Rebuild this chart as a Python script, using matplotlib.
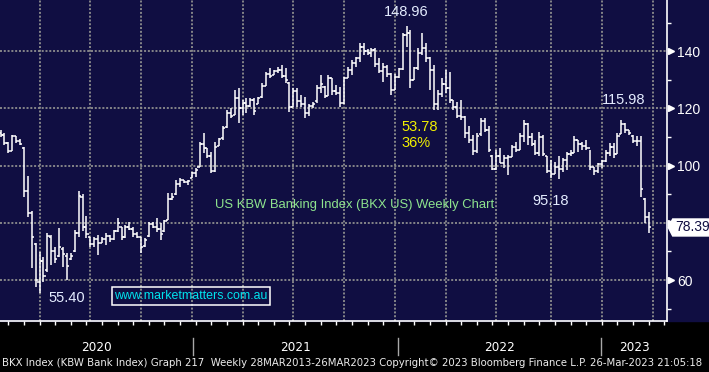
import numpy as np
import matplotlib.pyplot as plt
from matplotlib import transforms, font_manager
from matplotlib.patches import Rectangle, Polygon

# BKX weekly bars, week ending 17-Jan-2020 .. 24-Mar-2023 (x = week number)
bar_open = [
    111.5, 110.8, 107.8, 105.2, 110.2, 108.6, 106.3, 91.0, 83.5, 72.5,
    59.5, 66.5, 63.5, 75.0, 70.0, 68.5, 71.0, 68.5, 67.5, 70.0,
    76.5, 89.0, 78.5, 75.0, 72.5, 74.5, 73.0, 74.5, 75.5, 74.5,
    77.0, 78.5, 75.0, 78.5, 78.0, 76.0, 75.0, 71.8, 75.5, 79.5,
    78.5, 78.0, 77.0, 81.0, 88.5, 90.0, 93.5, 95.0, 94.3, 95.8,
    97.5, 99.7, 107.5, 106.0, 103.5, 98.0, 106.7, 109.5, 113.5, 118.5,
    117.7, 123.5, 120.0, 122.0, 121.0, 123.0, 121.5, 124.0, 128.0, 132.0,
    131.7, 133.0, 133.5, 131.5, 129.0, 120.5, 126.0, 122.5, 121.5, 118.5,
    121.0, 122.5, 127.0, 127.5, 124.5, 130.5, 126.0, 125.5, 122.0, 130.5,
    133.5, 136.0, 137.5, 141.5, 140.0, 139.5, 140.5, 135.5, 133.0, 134.5,
    132.0, 126.5, 131.0, 133.8, 145.5, 146.5, 130.0, 134.0, 139.5, 141.0,
    137.5, 133.5, 121.5, 125.0, 128.5, 127.0, 123.0, 120.5, 117.5, 117.0,
    111.5, 109.0, 105.0, 111.0, 115.5, 112.5, 103.5, 99.0, 103.5, 101.0,
    102.5, 103.0, 106.5, 105.5, 110.5, 114.5, 110.0, 107.5, 104.5, 110.0,
    103.5, 98.0, 97.0, 99.5, 99.0, 102.0, 104.0, 104.5, 109.0, 107.5,
    107.0, 106.0, 99.5, 98.0, 100.5, 101.5, 104.5, 106.5, 104.0, 111.0,
    114.5, 112.5, 110.5, 108.5, 108.5, 88.3, 82.0,
]
bar_high = [
    112.5, 111.3, 108.4, 110.8, 110.4, 109.2, 106.5, 96.4, 84.0, 72.9,
    69.9, 68.2, 76.4, 75.8, 71.7, 78.1, 71.7, 69.4, 69.4, 77.5,
    91.3, 90.0, 82.4, 75.2, 75.2, 75.8, 75.2, 76.4, 75.8, 77.5,
    81.6, 78.7, 79.3, 80.4, 78.7, 76.9, 75.2, 74.6, 80.4, 80.4,
    81.6, 79.9, 81.0, 90.4, 90.4, 95.0, 95.6, 95.0, 95.0, 97.9,
    99.1, 108.4, 111.3, 106.1, 104.9, 108.4, 109.6, 113.7, 119.5, 120.1,
    126.5, 127.1, 123.0, 123.6, 123.6, 123.6, 124.1, 128.8, 132.9, 134.1,
    133.5, 134.6, 135.2, 134.1, 129.4, 127.1, 127.1, 124.7, 124.1, 121.5,
    122.4, 128.2, 131.7, 127.8, 131.7, 130.6, 128.2, 127.6, 131.1, 134.6,
    137.0, 138.1, 143.0, 142.8, 140.7, 141.0, 141.0, 137.5, 135.8, 135.2,
    132.3, 132.0, 134.1, 146.3, 148.96, 147.5, 134.6, 141.0, 146.3, 142.8,
    138.1, 135.2, 126.5, 130.5, 133.5, 132.9, 123.0, 122.4, 123.0, 117.2,
    114.0, 110.7, 111.3, 116.6, 116.6, 114.0, 103.7, 105.5, 106.1, 103.7,
    103.7, 107.2, 108.4, 111.3, 116.0, 114.8, 111.3, 109.0, 111.9, 110.7,
    103.5, 102.0, 101.4, 103.2, 102.6, 104.9, 105.5, 110.2, 109.0, 108.4,
    109.0, 105.5, 99.7, 100.8, 102.0, 105.5, 107.8, 107.8, 111.3, 115.98,
    114.8, 112.5, 110.7, 110.2, 110.2, 88.6, 83.9,
]
bar_low = [
    110.0, 107.3, 104.3, 105.0, 107.8, 107.3, 89.2, 82.2, 64.1, 57.7,
    55.4, 59.5, 63.0, 65.3, 65.9, 68.2, 64.7, 60.0, 67.0, 69.8,
    75.2, 77.0, 74.6, 71.7, 71.7, 68.8, 72.9, 72.3, 73.4, 74.0,
    76.9, 74.0, 74.6, 77.5, 75.2, 74.6, 69.4, 71.7, 75.2, 78.1,
    76.9, 74.0, 76.9, 81.0, 88.0, 89.8, 92.7, 93.9, 93.2, 95.6,
    96.2, 99.7, 104.3, 102.6, 97.3, 97.9, 106.7, 109.0, 113.1, 116.6,
    117.7, 114.8, 117.7, 118.3, 120.6, 117.7, 121.5, 123.8, 128.0, 130.6,
    131.7, 132.3, 130.6, 128.8, 118.9, 120.5, 120.6, 120.6, 116.6, 117.5,
    120.0, 122.0, 125.3, 123.6, 124.5, 124.7, 124.7, 120.6, 121.5, 130.5,
    131.7, 134.6, 136.4, 138.7, 138.7, 138.1, 134.6, 132.3, 129.4, 131.1,
    124.7, 126.5, 130.6, 133.5, 141.6, 127.1, 130.0, 133.5, 138.7, 136.4,
    126.5, 119.5, 119.5, 124.1, 125.3, 122.0, 119.5, 116.6, 116.0, 109.6,
    108.0, 103.7, 104.3, 110.5, 111.9, 104.9, 98.5, 98.5, 100.8, 99.1,
    96.8, 103.0, 104.9, 105.5, 108.4, 107.2, 106.7, 103.7, 103.2, 103.2,
    97.3, 95.6, 97.0, 95.18, 97.9, 98.5, 103.2, 104.5, 104.9, 105.5,
    105.5, 98.5, 96.8, 97.3, 99.1, 101.4, 103.2, 102.6, 104.0, 111.0,
    111.3, 110.7, 107.8, 106.7, 89.2, 79.8, 76.4,
]
bar_close = [
    110.8, 107.8, 105.0, 110.2, 108.6, 107.6, 91.0, 83.5, 75.0, 60.0,
    66.5, 61.5, 75.5, 70.0, 67.5, 71.5, 69.0, 65.0, 68.5, 76.5,
    89.5, 78.5, 76.0, 72.5, 74.5, 73.0, 74.5, 75.5, 74.5, 77.0,
    80.0, 75.0, 78.5, 78.0, 76.0, 75.0, 71.5, 74.0, 79.5, 78.5,
    78.0, 76.0, 80.5, 88.5, 89.0, 93.5, 95.0, 94.3, 94.5, 97.5,
    98.5, 107.5, 106.0, 103.5, 98.0, 106.5, 109.3, 113.0, 118.5, 117.5,
    123.5, 120.0, 122.0, 121.0, 123.0, 119.0, 123.8, 128.0, 132.0, 131.5,
    133.0, 133.5, 131.5, 130.0, 120.5, 126.0, 122.5, 121.5, 118.5, 121.0,
    121.5, 127.0, 128.5, 124.5, 130.5, 126.0, 125.5, 122.0, 130.5, 133.5,
    136.0, 137.5, 141.5, 140.0, 139.5, 140.5, 135.5, 133.0, 134.5, 132.0,
    126.5, 131.0, 133.8, 145.5, 146.5, 130.0, 134.0, 139.5, 141.0, 137.5,
    133.5, 121.5, 125.0, 128.5, 127.0, 123.0, 120.5, 117.5, 117.0, 111.5,
    109.0, 105.0, 110.5, 115.5, 112.5, 105.5, 99.0, 103.5, 101.0, 102.5,
    103.0, 106.5, 105.5, 110.5, 114.5, 110.0, 107.5, 104.5, 110.0, 104.0,
    98.0, 97.0, 99.5, 99.0, 102.0, 104.0, 104.5, 109.0, 107.5, 107.0,
    106.0, 99.5, 98.0, 100.5, 101.5, 104.5, 106.5, 104.0, 110.5, 114.5,
    112.5, 111.5, 108.5, 108.5, 92.0, 82.0, 78.39,
]

price_ticks = [60, 80, 100, 120, 140]
minor_ticks = [50, 70, 90, 110, 130, 150]
quarter_lines = [10, 23, 36, 49, 62, 75, 88, 101, 114, 127, 141, 154, 167]
year_edges = [49.3, 101.9, 153.9]
year_labels = ['2020', '2021', '2022', '2023']
footer = ('BKX Index (KBW Bank Index) Graph 217  Weekly 28MAR2013-26MAR2023 '
          'Copyright\u00a9 2023 Bloomberg Finance L.P. 26-Mar-2023 21:05:18')

navy = '#100e42'
W, H = 709, 372

plt.rcParams['font.family'] = ['Liberation Sans', 'DejaVu Sans']


def narrow_font():
    # a condensed face for the Bloomberg footer, if one is installed
    fl = font_manager.fontManager.ttflist
    for f in fl:
        if f.name == 'Liberation Sans Narrow' and f.weight in (400, 'normal') and f.style == 'normal':
            return font_manager.FontProperties(fname=f.fname)
    for f in fl:
        if f.stretch in ('condensed', 'semi-condensed') and f.style == 'normal' \
                and f.weight in (400, 'normal') and 'Sans' in f.name and 'Mono' not in f.name:
            return font_manager.FontProperties(fname=f.fname)
    return font_manager.FontProperties(family='Liberation Sans')


fig = plt.figure(figsize=(W / 100, H / 100), dpi=100, facecolor='black')
fig.patches.append(Rectangle((0, 51 / H), 1, 1, transform=fig.transFigure,
                             color=navy, zorder=-10))
ax = fig.add_axes([0, 51 / H, 667 / W, 321 / H])
ax.set_facecolor(navy)
ax.set_xlim(-0.13, 170.7)
ax.set_ylim(45.7, 157.9)

x = np.arange(len(bar_close))
ax.vlines(x, bar_low, bar_high, color='white', lw=1.1, zorder=3)
ax.hlines(bar_open, x - 0.55, x, color='white', lw=1.1, zorder=3)
ax.hlines(bar_close, x, x + 0.55, color='white', lw=1.1, zorder=3)

dots = dict(color='#8e8e8e', lw=1.3, ls=(0, (1.1, 1.0)), zorder=1)
for p in price_ticks:
    ax.axhline(p, **dots)
for q in quarter_lines:
    ax.axvline(q, **dots)

for s in ['top', 'left']:
    ax.spines[s].set_visible(False)
for s in ['right', 'bottom']:
    ax.spines[s].set_color('white')
    ax.spines[s].set_linewidth(1.2)

ax.set_xticks(np.arange(2, 171, 4))
ax.tick_params(axis='x', length=3, width=1, color='white', labelbottom=False)
ax.yaxis.tick_right()
ax.set_yticks(price_ticks)
# the last-price tag sits on top of the nearest level label
last = bar_close[-1]
ax.set_yticklabels(['' if abs(p - last) < 5 else str(p) for p in price_ticks])
ax.set_yticks(minor_ticks, minor=True)
ax.tick_params(axis='y', which='major', length=0, pad=7.5,
               labelcolor='white', labelsize=10)
ax.tick_params(axis='y', which='minor', length=3, width=1, color='white')
tri = transforms.offset_copy(ax.get_yaxis_transform(), fig=fig, x=3.5, units='dots')
ax.plot([1.0] * len(price_ticks), price_ticks, ls='none', marker='>', ms=5,
        color='white', transform=tri, clip_on=False)

# labels on the chart
peak_i = int(np.argmax(bar_high))
low_i = int(np.argmin(bar_low))
low22_i = 120 + int(np.argmin(bar_low[120:160]))
hi23_i = 150 + int(np.argmax(bar_high[150:]))
fall = bar_high[peak_i] - bar_low[low22_i]
lab = dict(color='#e4ecff', fontsize=10.5, ha='center', va='center')
ax.text(peak_i - 0.2, 153.6, f'{bar_high[peak_i]:.2f}', **lab)
ax.text(low_i + 7, 53.9, f'{bar_low[low_i]:.2f}', **lab)
ax.text(low22_i - 2, 87.8, f'{bar_low[low22_i]:.2f}', **lab)
ax.text(hi23_i + 0.7, 122.8, f'{bar_high[hi23_i]:.2f}', **lab)
ax.text(102.8, 113.5, f'{fall:.2f}', color='#f2f000', fontsize=10.5, va='center')
ax.text(102.8, 107.9, f'{fall / bar_high[peak_i] * 100:.0f}%', color='#f2f000',
        fontsize=10.5, va='center')

r = fig.canvas.get_renderer()


def fit(t, width_px):
    w = t.get_window_extent(r).width
    t.set_fontsize(t.get_fontsize() * width_px / w)


title = ax.text(90.8, 86.4, 'US KBW Banking Index (BKX US) Weekly Chart',
                color='#8ee48e', fontsize=10, ha='center', va='center')
fit(title, 280)
www = ax.text(48.6, 54.4, 'www.marketmatters.com.au', color='#00e4ee',
              fontsize=10, ha='center', va='center')
fit(www, 153)
box_l, box_r = 112.3 / 3.905 - 0.13, 270 / 3.905 - 0.13
ax.add_patch(Rectangle((box_l, 100 + (165.7 - 305) / 2.86), box_r - box_l,
                       18.3 / 2.86, fill=False, ec='white', lw=1.1, zorder=4))

# last price tag
yd = ax.transData.transform((0, last))[1]
tag = [(668.3, yd), (672.7, yd + 8.5), (712, yd + 8.5), (712, yd - 8.5), (672.7, yd - 8.5)]
fig.patches.append(Polygon([(px / W, py / H) for px, py in tag], closed=True,
                           transform=fig.transFigure, fc='white', ec='white', zorder=5))
fig.text(675 / W, yd / H, f'{last:.2f}', color=navy, fontsize=10,
         va='center', ha='left', zorder=6)

# year strip and footer
nf = narrow_font()
bx = ax.get_xaxis_transform()
edges = [ax.get_xlim()[0]] + year_edges + [ax.get_xlim()[1]]
for e in year_edges:
    ax.plot([e, e], [-0.053, -0.106], color='#a8a8a8', lw=1, transform=bx, clip_on=False)
for k, y in enumerate(year_labels):
    t = ax.text((edges[k] + edges[k + 1]) / 2, -0.081, y, transform=bx, color='white',
                fontproperties=nf, fontsize=10.5, ha='center', va='center', clip_on=False)
    fit(t, 31)
ft = fig.text(2 / W, 1 - 363.5 / H, footer, color='#ececec', fontproperties=nf,
              fontsize=8, ha='left', va='center')
fit(ft, 704)

fig.savefig('out.png', dpi=100, facecolor='black')
